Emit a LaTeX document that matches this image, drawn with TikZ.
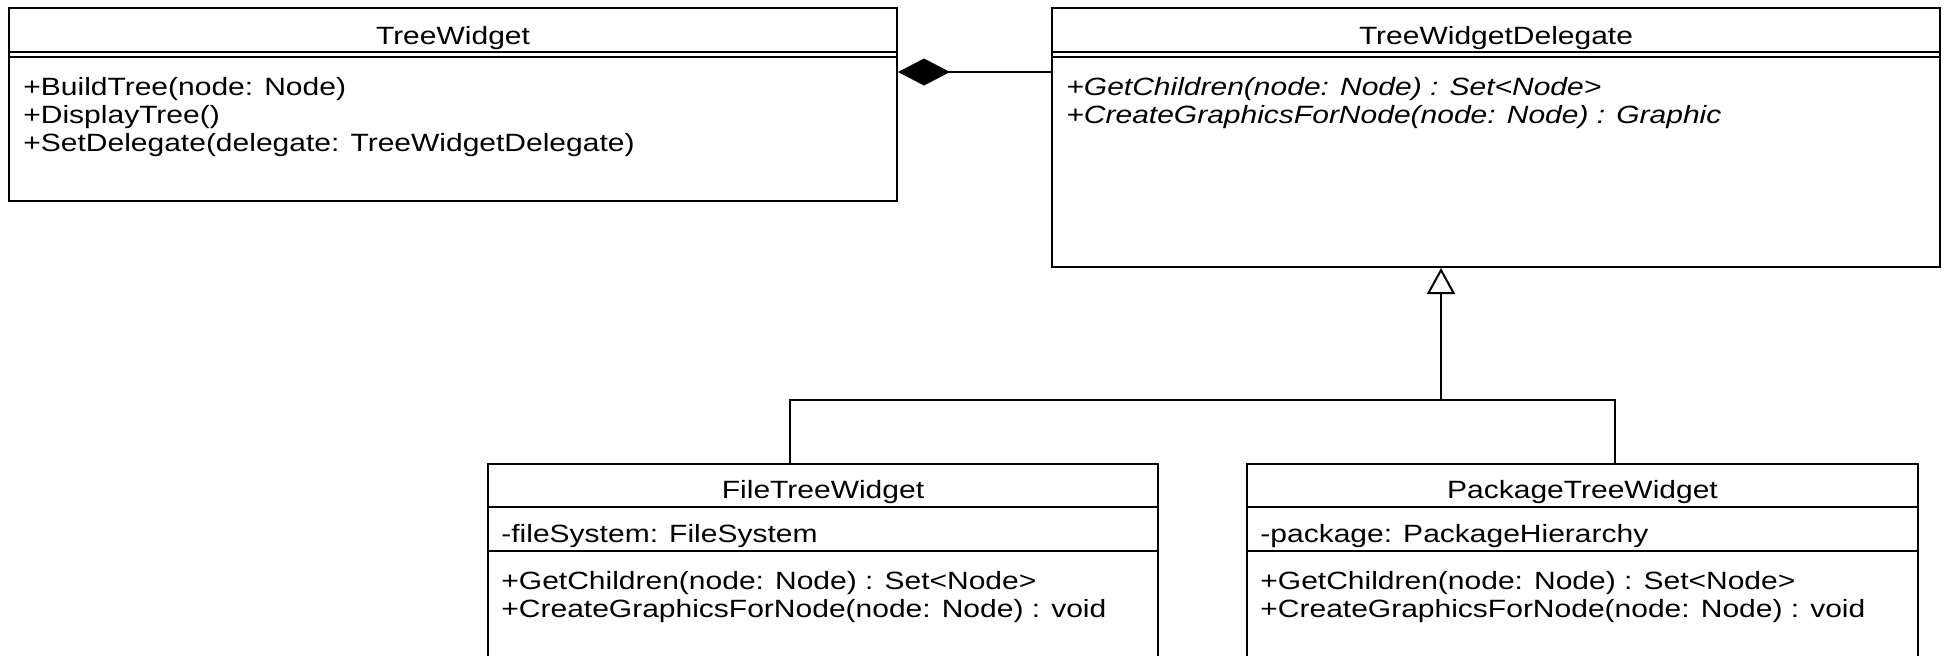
\documentclass[tikz,border=0pt]{standalone}
\usepackage{fontspec}
\setmainfont{Liberation Sans}[FakeStretch=1.2]
\usetikzlibrary{arrows.meta,positioning,fit}
\tikzset{
  umlbox/.style={draw, line width=1pt, inner sep=0pt},
  cname/.style={font=\fontsize{12.5}{15}\selectfont, inner sep=0pt, text height=0.75em, text depth=0.25em},
  member/.style={font=\fontsize{12.5}{15}\selectfont, anchor=west, inner sep=0pt, text height=0.75em, text depth=0.25em},
  rule/.style={line width=1pt},
  compo/.style={line width=1pt, {Diamond[length=26pt,width=13.5pt]}-},
  inherit/.style={line width=1pt, -{Triangle[open,fill=white,length=13pt,width=14pt]}}
}
\begin{document}
\begin{tikzpicture}[x=0.5pt,y=-0.5pt]
  \useasboundingbox (0,0) rectangle (1948,655);
  \clip (0,0) rectangle (1948,655);
  % class boxes
  \node[umlbox, fit={(9,8) (897,201)}] (tw) {};
  \node[umlbox, fit={(1052,8) (1940,267)}] (twd) {};
  \node[umlbox, fit={(488,464) (1158,680)}] (ftw) {};
  \node[umlbox, fit={(1247,464) (1918,680)}] (ptw) {};
  % compartments
  \foreach \b in {tw,twd} {
    \draw[rule] (\b.west |- 0,52) -- (\b.east |- 0,52);
    \draw[rule] (\b.west |- 0,57) -- (\b.east |- 0,57);
  }
  \foreach \b in {ftw,ptw} {
    \draw[rule] (\b.west |- 0,507) -- (\b.east |- 0,507);
    \draw[rule] (\b.west |- 0,551) -- (\b.east |- 0,551);
  }
  % names
  \node[cname] (tw-name) at (tw.north |- 0,39) {TreeWidget};
  \node[cname] (twd-name) at (twd.north |- 0,39) {TreeWidgetDelegate};
  \node[cname] (ftw-name) at (ftw.north |- 0,493) {FileTreeWidget};
  \node[cname] (ptw-name) at (ptw.north |- 0,493) {PackageTreeWidget};
  % members
  \foreach \txt [count=\i] in {+BuildTree(node: Node), +DisplayTree(), +SetDelegate(delegate: TreeWidgetDelegate)}
    \node[member] (tw-m\i) at (23,{62+28*\i}) {\txt};
  \foreach \txt [count=\i] in {+GetChildren(node: Node) : Set<Node>, +CreateGraphicsForNode(node: Node) : Graphic}
    \node[member, font=\fontsize{12.5}{15}\selectfont\itshape] (twd-m\i) at (1066,{62+28*\i}) {\txt};
  \node[member] (ftw-a) at (501,537) {-fileSystem: FileSystem};
  \node[member] (ptw-a) at (1260,537) {-package: PackageHierarchy};
  \foreach \txt [count=\i] in {+GetChildren(node: Node) : Set<Node>, +CreateGraphicsForNode(node: Node) : void} {
    \node[member] (ftw-m\i) at (501,{556+28*\i}) {\txt};
    \node[member] (ptw-m\i) at (1260,{556+28*\i}) {\txt};
  }
  % composition
  \path (tw.north east) ++(0,65) coordinate (hook);
  \draw[compo] (hook) -- (twd.west |- hook);
  % generalisation
  \path (ftw.north west) ++(303,0) coordinate (fileup);
  \path (ptw.north west) ++(369,0) coordinate (pkgup);
  \path (twd.south west) ++(390,132) coordinate (bus);
  \draw[rule] (fileup) |- (bus) -| (pkgup);
  \draw[inherit] (bus) -- (bus |- twd.south);
\end{tikzpicture}
\end{document}
